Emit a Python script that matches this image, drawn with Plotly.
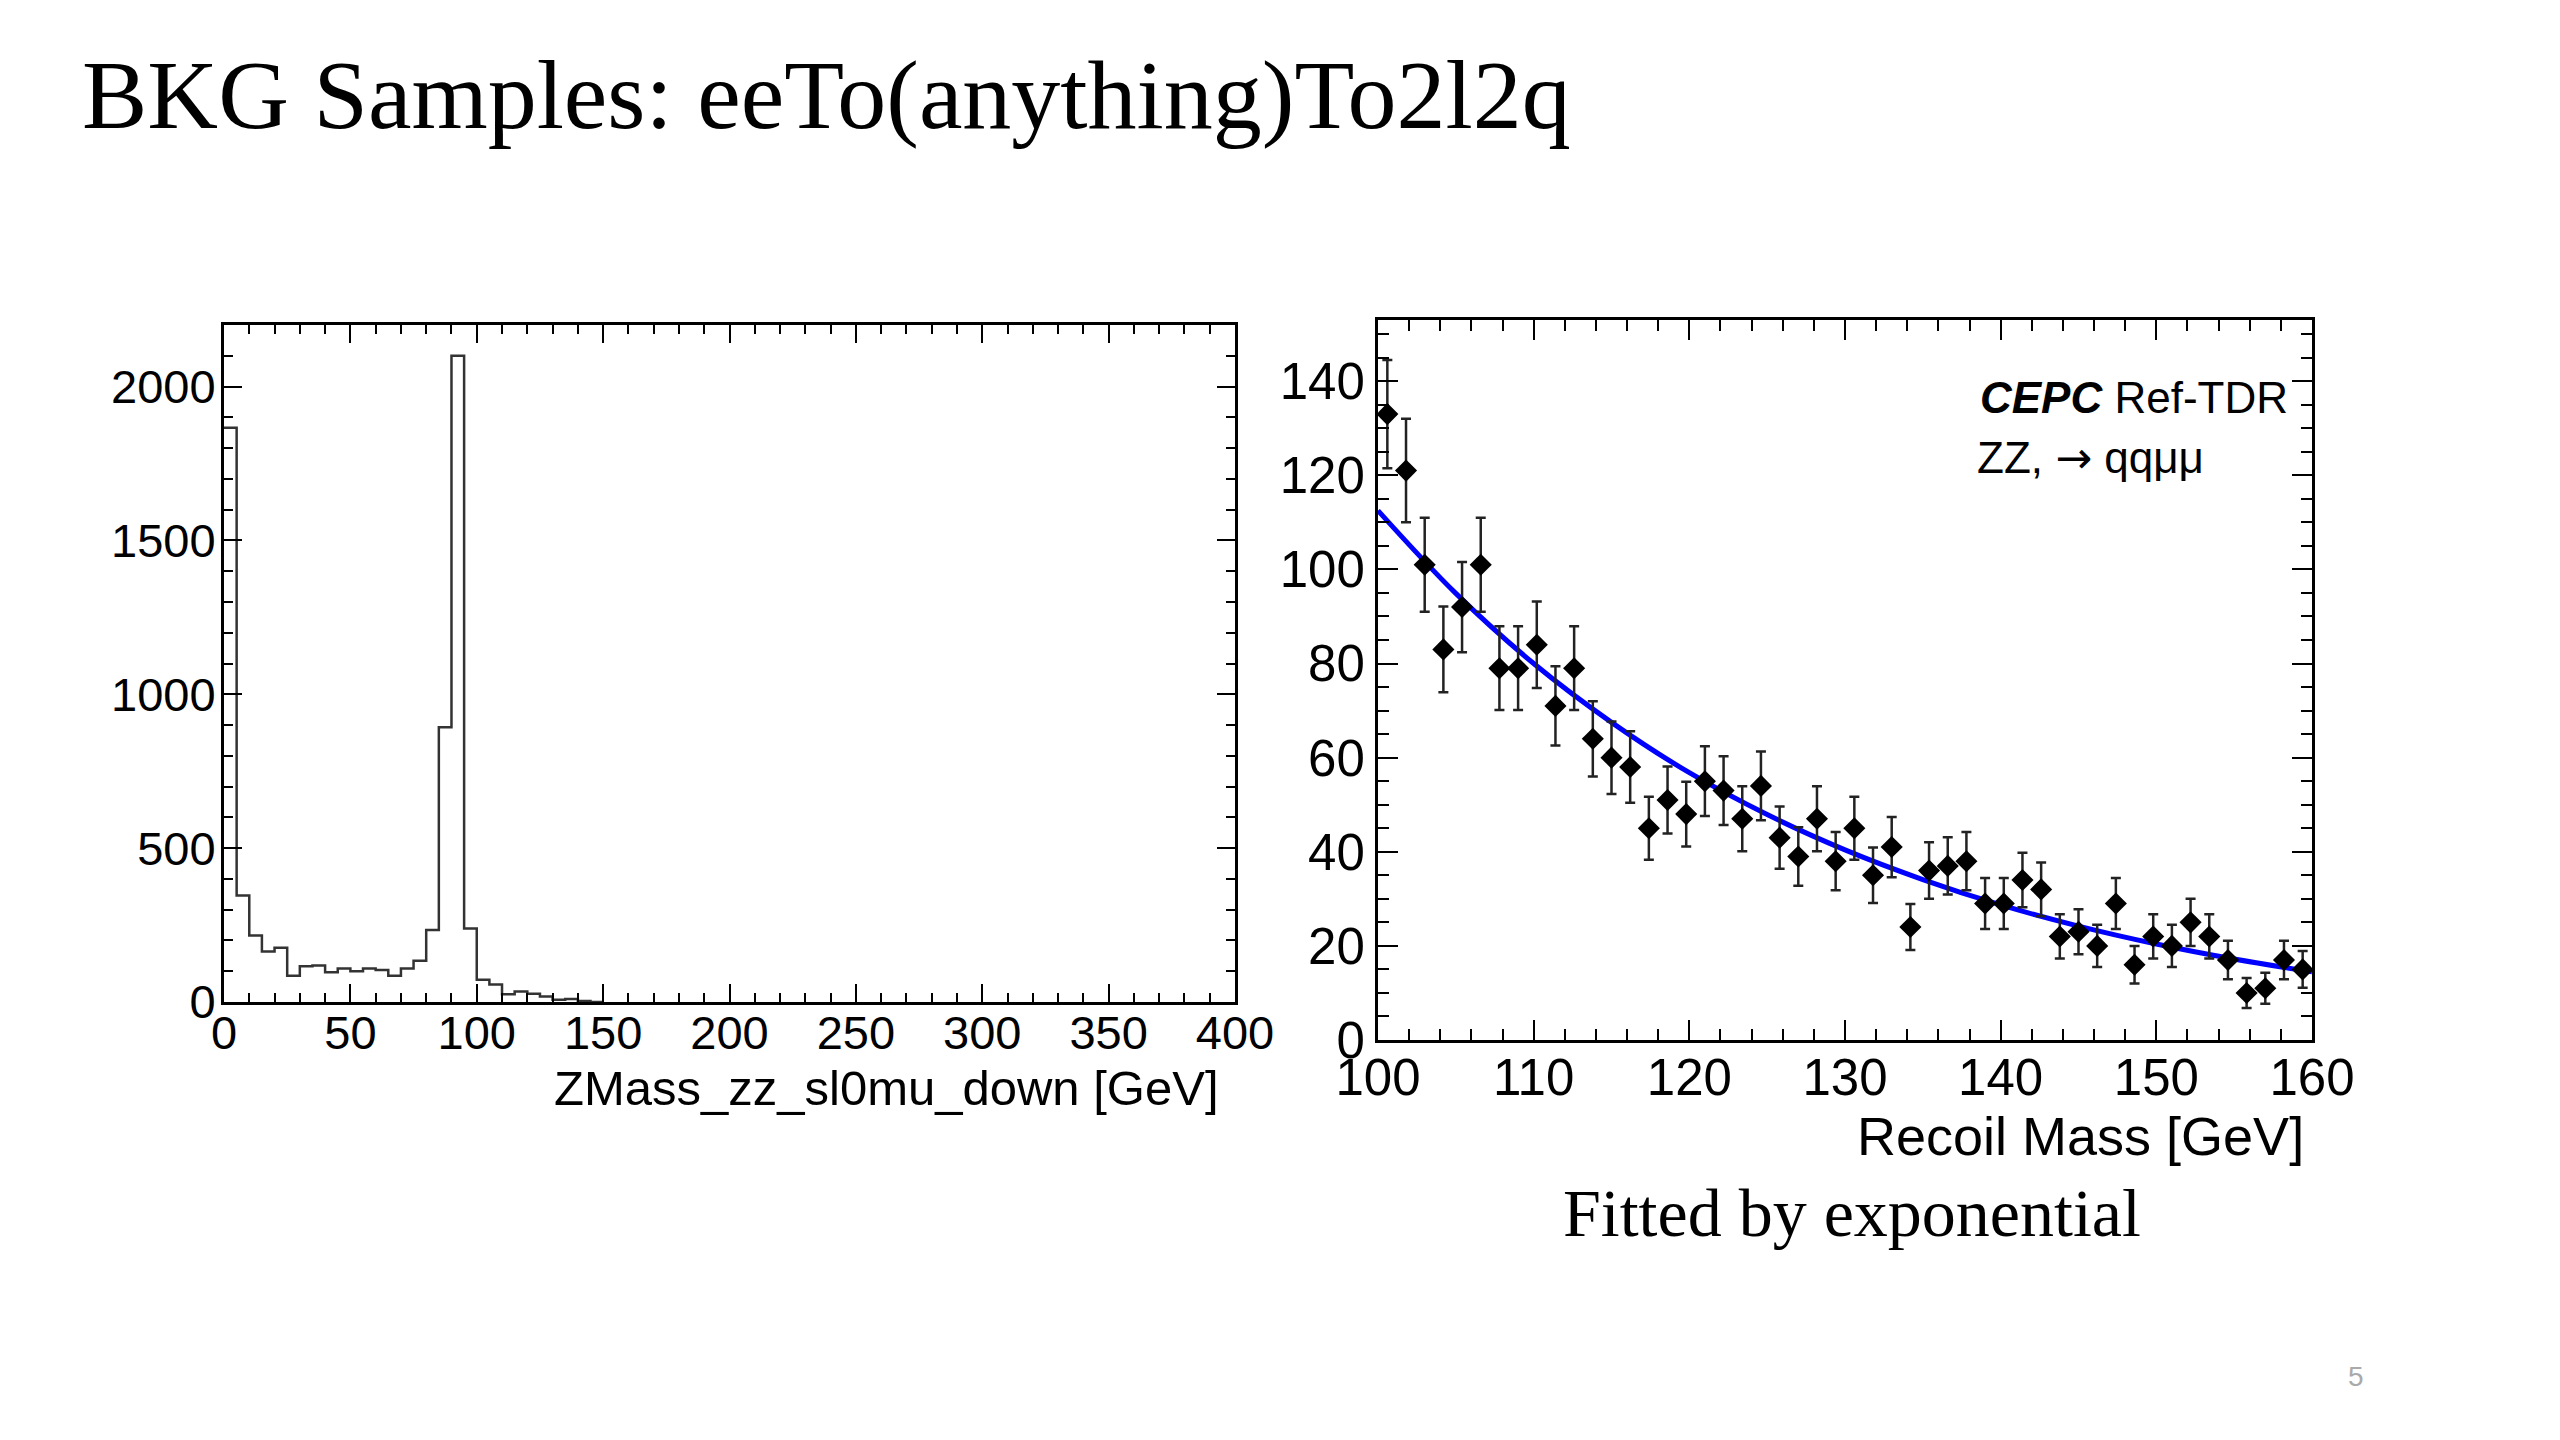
import plotly.graph_objects as go

# ---- data ----
# left: ZMass_zz_sl0mu_down histogram, 5 GeV bins starting at 0
zmass_bin_width = 5
zmass_counts = [1866, 346, 216, 164, 176, 85, 116, 119, 97, 109,
                100, 109, 104, 85, 109, 134, 234, 893, 2100, 239,
                72, 57, 25, 34, 27, 18, 7, 10, 3, 0]

# right: recoil mass, 1.2 GeV bins from 100 to 160
recoil_bin_width = 1.2
recoil_counts = [133, 121, 101, 83, 92, 101, 79, 79, 84, 71,
                 79, 64, 60, 58, 45, 51, 48, 55, 53, 47,
                 54, 43, 39, 47, 38, 45, 35, 41, 24, 36,
                 37, 38, 29, 29, 34, 32, 22, 23, 20, 29,
                 16, 22, 20, 25, 22, 17, 10, 11, 17, 15]
recoil_errors = [11.5, 11.0, 10.0, 9.1, 9.6, 10.0, 8.9, 8.9, 9.2, 8.4,
                 8.9, 8.0, 7.7, 7.6, 6.7, 7.1, 6.9, 7.4, 7.3, 6.9,
                 7.3, 6.6, 6.2, 6.9, 6.2, 6.7, 5.9, 6.4, 4.9, 6.0,
                 6.1, 6.2, 5.4, 5.4, 5.8, 5.7, 4.7, 4.8, 4.5, 5.4,
                 4.0, 4.7, 4.5, 5.0, 4.7, 4.1, 3.2, 3.3, 4.1, 3.9]

# blue exponential fit, read every 5 GeV
fit_x = [100, 105, 110, 115, 120, 125, 130, 135, 140, 145, 150, 155, 160]
fit_y = [112.5, 94.9, 80.0, 67.5, 56.8, 47.9, 40.4, 34.1, 28.7, 24.2, 20.4, 17.2, 14.5]

W, H = 2560, 1440
sans = "Liberation Sans, Arial, Helvetica, sans-serif"
serif = "Liberation Serif, Times New Roman, serif"

# bin edges / centres
zmass_edges = [i * zmass_bin_width for i in range(len(zmass_counts) + 1)]
recoil_centres = [100 + recoil_bin_width * (i + 0.5) for i in range(len(recoil_counts))]

fig = go.Figure()

# histogram outline (ROOT style step line)
fig.add_trace(go.Scatter(x=zmass_edges, y=zmass_counts + [0],
                         mode='lines', line=dict(color='#333333', width=2.5, shape='hv'),
                         xaxis='x', yaxis='y', showlegend=False))

# fit curve
fig.add_trace(go.Scatter(x=fit_x, y=fit_y, mode='lines',
                         line=dict(color='#0000ff', width=5, shape='spline'),
                         xaxis='x2', yaxis='y2', showlegend=False))

# data points with errors
fig.add_trace(go.Scatter(x=recoil_centres, y=recoil_counts, mode='markers',
                         marker=dict(symbol='diamond', size=17, color='black'),
                         error_y=dict(type='data', array=recoil_errors, color='#222222',
                                      thickness=2.5, width=5),
                         error_x=dict(type='constant', value=recoil_bin_width / 2,
                                      color='#222222', thickness=2.5, width=0),
                         xaxis='x2', yaxis='y2', showlegend=False))


def axis_style(rng, dtick, minor_dtick, major_len, minor_len, standoff, fsize):
    return dict(range=rng, dtick=dtick, tick0=0,
                ticks='inside', ticklen=major_len, tickwidth=2, tickcolor='black',
                minor=dict(dtick=minor_dtick, ticks='inside', ticklen=minor_len,
                           tickwidth=2, tickcolor='black', showgrid=False),
                showline=True, linewidth=3, linecolor='black', mirror='allticks',
                showgrid=False, zeroline=False, fixedrange=True, automargin=False,
                ticklabelstandoff=standoff,
                tickfont=dict(family=sans, size=fsize, color='black'))


# frame positions in pixels -> paper fractions
L_x0, L_x1, L_y0, L_y1 = 216, 1227, 317, 994
R_x0, R_x1, R_y0, R_y1 = 1370, 2304, 312, 1032

xa = axis_style([0, 400], 50, 10, 18, 9, -12, 47)
xa.update(domain=[L_x0 / W, L_x1 / W], anchor='y')
ya = axis_style([0, 2200], 500, 100, 18, 9, -4, 47)
ya.update(domain=[1 - L_y1 / H, 1 - L_y0 / H], anchor='x')

xa2 = axis_style([100, 160], 10, 2, 20, 11, -9, 51)
xa2.update(domain=[R_x0 / W, R_x1 / W], anchor='y2')
ya2 = axis_style([0, 153], 20, 5, 20, 11, 0, 51)
ya2.update(domain=[1 - R_y1 / H, 1 - R_y0 / H], anchor='x2')

fig.update_layout(
    width=W, height=H, margin=dict(l=0, r=0, t=0, b=0, autoexpand=False),
    paper_bgcolor='white', plot_bgcolor='white',
    xaxis=xa, yaxis=ya, xaxis2=xa2, yaxis2=ya2,
)

arrow = '<span style="font-family:DejaVu Sans">\u2192</span>'
annotations = [
    # slide title
    dict(text='BKG Samples: eeTo(anything)To2l2q', x=72 / W, y=1 - 87 / H,
         xanchor='left', yanchor='middle', font=dict(family=serif, size=98, color='black')),
    # axis titles, right aligned like ROOT
    dict(text='ZMass_zz_sl0mu_down [GeV]', x=1213 / W, y=1 - 1080 / H,
         xanchor='right', yanchor='middle', font=dict(family=sans, size=49, color='black')),
    dict(text='Recoil Mass [GeV]', x=2298 / W, y=1 - 1128 / H,
         xanchor='right', yanchor='middle', font=dict(family=sans, size=54, color='black')),
    # legend-ish text inside the right plot
    dict(text='<b><i>CEPC</i></b> Ref-TDR', x=1970 / W, y=1 - 390 / H,
         xanchor='left', yanchor='middle', font=dict(family=sans, size=44, color='black')),
    dict(text='ZZ, ' + arrow + ' qq\u03bc\u03bc', x=1967 / W, y=1 - 449 / H,
         xanchor='left', yanchor='middle', font=dict(family=sans, size=44, color='black')),
    # caption under right plot
    dict(text='Fitted by exponential', x=1844 / W, y=1 - 1205 / H,
         xanchor='center', yanchor='middle', font=dict(family=serif, size=68, color='black')),
    # page number
    dict(text='5', x=2348 / W, y=1 - 1368 / H,
         xanchor='center', yanchor='middle', font=dict(family=sans, size=28, color='#aaaaaa')),
]
for a in annotations:
    a.update(xref='paper', yref='paper', showarrow=False)
fig.update_layout(annotations=annotations)

fig.write_html("out.html")
